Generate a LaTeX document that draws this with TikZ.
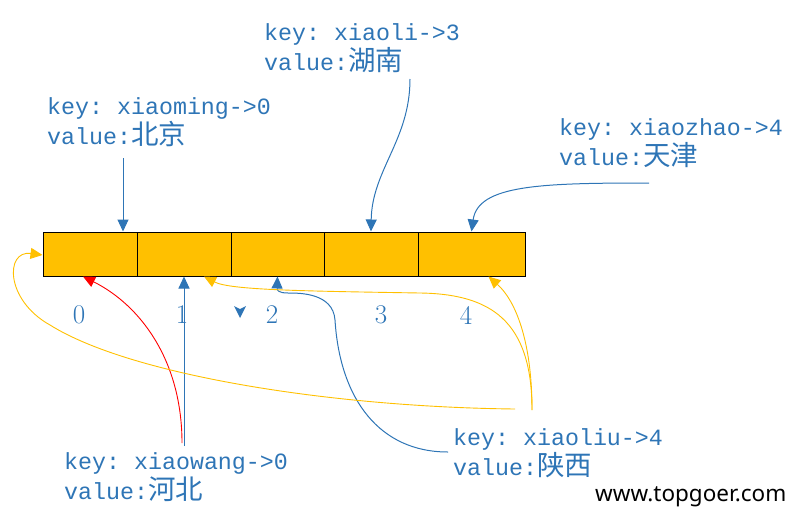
\documentclass[tikz,border=0pt]{standalone}
\usepackage{fontspec}
\setmonofont{Liberation Mono}
\newfontfamily\cjk{Noto Sans CJK SC}[Scale=1.18]
\newfontfamily\webfont{Noto Sans}
\usetikzlibrary{arrows.meta,calc}
\definecolor{cellyellow}{RGB}{255,192,0}
\definecolor{lineblue}{RGB}{46,117,182}

\begin{document}
\begin{tikzpicture}[x=1pt,y=-1pt,
  cell/.style={draw=black,line width=1pt,fill=cellyellow,minimum height=44pt,inner sep=0},
  idx/.style={text=lineblue,font=\fontsize{27}{27}\selectfont},
  entry/.style={text=lineblue,anchor=west,inner sep=0,align=left,font=\ttfamily\fontsize{23.3}{30.5}\selectfont},
  blueline/.style={draw=lineblue,line width=1pt,-{Triangle[length=12pt,width=11pt]}},
  redline/.style={draw=red,line width=0.9pt,-{Triangle[length=12pt,width=11pt]}},
  yellowline/.style={draw=cellyellow,line width=0.9pt,-{Triangle[length=12pt,width=11pt]}}]
\useasboundingbox (0,0) rectangle (799,522);
%array
\foreach \i/\cx/\w in {0/90/94,1/184/94,2/277.5/93,3/371/94,4/471.5/107}
\node[cell,minimum width=\w pt] (c\i) at (\cx,254) {};
\foreach \i/\x in {0/79,1/182,2/272,3/381,4/466}
\node[idx] (n\i) at (\x,315) {\i};
\fill[lineblue] (234,306) -- (240,309) -- (246,306) -- (240,318) -- cycle;
%entries
\node[entry] (ming) at (47,122) {key: xiaoming->0\\value:{\cjk 北京}};
\node[entry] (li) at (264,48) {key: xiaoli->3\\value:{\cjk 湖南}};
\node[entry] (zhao) at (559,143) {key: xiaozhao->4\\value:{\cjk 天津}};
\node[entry] (wang) at (64,477) {key: xiaowang->0\\value:{\cjk 河北}};
\node[entry] (liu) at (453,453) {key: xiaoliu->4\\value:{\cjk 陕西}};
\node[anchor=west,inner sep=0,font=\webfont\fontsize{22.5}{22.5}\selectfont] (site) at (595,497) {www.topgoer.com};
%connectors
\draw[blueline] ($(ming.west)+(76,36)$) -- ($(c0.north)+(33,0)$);
\draw[blueline] ($(li.west)+(146,31)$) .. controls (410,140) and (372,170) .. (c3.north);
\draw[blueline] ($(zhao.west)+(90,40)$) .. controls (540,183) and (478,185) .. (c4.north);
\draw[blueline] ($(wang.west)+(120,-31)$) -- (c1.south);
\draw[redline] ($(wang.west)+(118,-34)$) .. controls (182,360) and (140,305) .. ($(c0.south)+(-7,0)$);
\draw[blueline] ($(liu.west)+(-5,-1)$) .. controls (380,452) and (340,400) .. (335,320)
  .. controls (333,293) and (300,293) .. (288,293) .. controls (278,293) and (277,290) .. (c2.south);
\draw[yellowline] ($(liu.west)+(79,-43)$) .. controls (532,340) and (515,300) .. ($(c4.south)+(17,0)$);
\draw[yellowline] ($(liu.west)+(79,-43)$) .. controls (532,320) and (490,294) .. (420,293)
  .. controls (300,291) and (230,290) .. ($(c1.south)+(20,0)$);
\draw[yellowline] ($(liu.west)+(62,-44)$) .. controls (330,407) and (130,375) .. (50,325)
  .. controls (5,300) and (5,250) .. ($(c0.west)+(0,1)$);
\end{tikzpicture}
\end{document}
